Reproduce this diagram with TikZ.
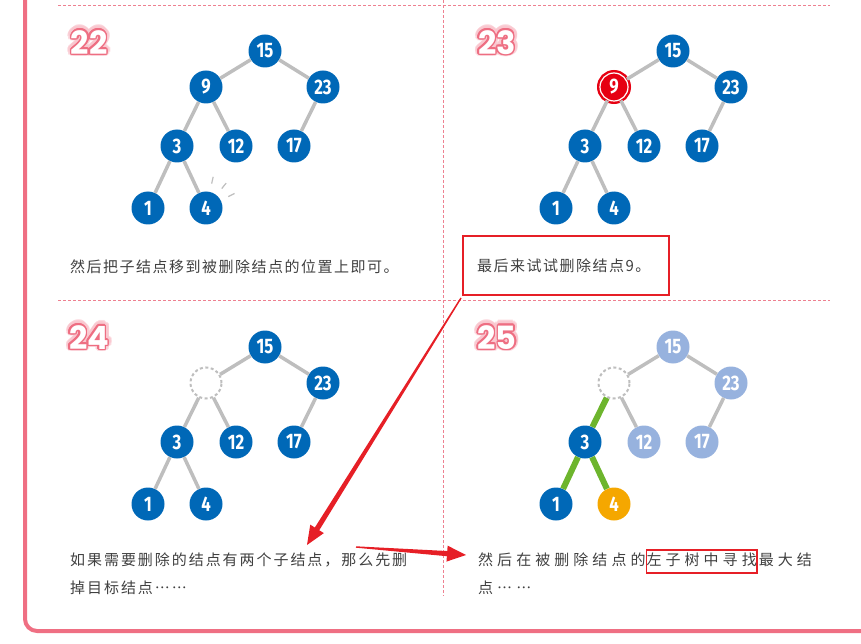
\documentclass[tikz,border=0pt]{standalone}
\usepackage{graphicx}
\usepackage{fontspec}
\usepackage{contour}
\usetikzlibrary{positioning,calc}
\newfontfamily\cjkA{Noto Sans CJK SC}[Script=CJK, Language=Chinese Simplified, LetterSpace=10]
\newfontfamily\cjkB{Noto Sans CJK SC}[Script=CJK, Language=Chinese Simplified, LetterSpace=13]
\newfontfamily\cjkC{Noto Sans CJK SC}[Script=CJK, Language=Chinese Simplified, LetterSpace=27]
\newfontfamily\numfont{Fira Sans}
\newfontfamily\labelfont{Poppins}
\definecolor{treeblue}{HTML}{0068B7}
\definecolor{fadeblue}{HTML}{97B2DE}
\definecolor{maxorange}{HTML}{F5A700}
\definecolor{pathgreen}{HTML}{6DB52D}
\definecolor{edgegray}{HTML}{BEBEBE}
\definecolor{delred}{HTML}{E60012}
\definecolor{framepink}{HTML}{EF6F83}
\definecolor{seppink}{HTML}{EE8090}
\definecolor{labelpink}{HTML}{EE6E82}
\definecolor{glowpink}{HTML}{F9C6CE}
\definecolor{textgray}{HTML}{404040}
\definecolor{boxred}{HTML}{E61F26}
\newcommand\val[1]{\scalebox{0.8}[1]{#1}}
\newcommand\steptext[1]{\contourlength{1.5pt}\contour{labelpink}{\textcolor{white}{#1}}}
\newcommand\stepglow[1]{\contourlength{4pt}\contour{glowpink}{\textcolor{glowpink}{#1}}}
% tapered red arrow between two named coordinates
\newcommand\taperarrow[2]{%
  \coordinate (#1-base) at ($(#2)!19pt!(#1)$);
  \fill[boxred] ($(#1)!0.7pt!90:(#2)$) -- ($(#1-base)!2.6pt!90:(#2)$)
    -- ($(#1-base)!8pt!90:(#2)$) -- (#2) -- ($(#1-base)!8pt!-90:(#2)$)
    -- ($(#1-base)!2.6pt!-90:(#2)$) -- ($(#1)!0.7pt!-90:(#2)$) -- cycle;}
\tikzset{
  tnode/.style={circle, fill=treeblue, minimum size=33pt, inner sep=0pt, text=white,
    font=\numfont\bfseries\fontsize{21}{21}\selectfont},
  fadenode/.style={tnode, fill=fadeblue},
  maxnode/.style={tnode, fill=maxorange},
  delnode/.style={tnode, fill=delred, draw=delred, line width=2.4pt, double=white,
    double distance=1.2pt, minimum size=28pt},
  holenode/.style={circle, draw=edgegray, line width=2pt, dash pattern=on 3pt off 2.5pt,
    minimum size=31pt, inner sep=0pt},
  edge/.style={draw=edgegray, line width=3.5pt},
  greenedge/.style={draw=pathgreen, line width=6pt},
  spark/.style={draw=edgegray, line width=1.2pt},
  sepline/.style={draw=seppink, line width=0.8pt, dash pattern=on 3pt off 2pt},
  steplabel/.style={inner sep=0pt, font=\labelfont\bfseries\fontsize{32}{32}\selectfont},
  glowlabel/.style={steplabel, opacity=0.6},
  caption/.style={inner sep=0pt, text=textgray, anchor=west},
  findbox/.style={draw=boxred, line width=1.5pt, inner xsep=0pt, inner ysep=4pt,
    text height=12pt, text depth=3pt}
}
\begin{document}
\begin{tikzpicture}[x=1pt, y=-1pt]
  \useasboundingbox (0,0) rectangle (861,644);
  % frame and separators
  \draw[framepink, line width=4pt, rounded corners=12pt] (25,-10) -- (25,631) -- (880,631);
  \draw[sepline] (58,5) -- (830,5);
  \draw[sepline] (58,300) -- (830,300);
  \draw[sepline] (443,0) -- (443,596);
  % step numbers
  \node[glowlabel] (g22) at (89,43) {\stepglow{22}};
  \node[steplabel] (l22) at (89,43) {\steptext{22}};
  \node[glowlabel] (g23) at (497,43) {\stepglow{23}};
  \node[steplabel] (l23) at (497,43) {\steptext{23}};
  \node[glowlabel] (g24) at (89,338) {\stepglow{24}};
  \node[steplabel] (l24) at (89,338) {\steptext{24}};
  \node[glowlabel] (g25) at (497,338) {\stepglow{25}};
  \node[steplabel] (l25) at (497,338) {\steptext{25}};

  % step 22
  \begin{scope}
    \node[tnode] (a15) at (265,51) {\val{15}};
    \node[tnode] (a9) at (206,87) {\val{9}};
    \node[tnode] (a23) at (323,87) {\val{23}};
    \node[tnode] (a3) at (177,146) {\val{3}};
    \node[tnode] (a12) at (236,146) {\val{12}};
    \node[tnode] (a17) at (294,146) {\val{17}};
    \node[tnode] (a1) at (148,208) {\val{1}};
    \node[tnode] (a4) at (206,208) {\val{4}};
    \draw[edge] (a15) -- (a9);
    \draw[edge] (a15) -- (a23);
    \draw[edge] (a9) -- (a3);
    \draw[edge] (a9) -- (a12);
    \draw[edge] (a23) -- (a17);
    \draw[edge] (a3) -- (a1);
    \draw[edge] (a3) -- (a4);
    \foreach \ang in {-77,-51,-27}
      \draw[spark] ([shift={(\ang:25)}]a4.center) -- ([shift={(\ang:32)}]a4.center);
  \end{scope}
  \node[caption, font=\cjkA\fontsize{15}{15}\selectfont] (t22) at (70,267)
    {然后把子结点移到被删除结点的位置上即可。};

  % step 23
  \begin{scope}[shift={(408,0)}]
    \node[tnode] (b15) at (265,51) {\val{15}};
    \node[delnode] (b9) at (206,87) {\val{9}};
    \node[tnode] (b23) at (323,87) {\val{23}};
    \node[tnode] (b3) at (177,146) {\val{3}};
    \node[tnode] (b12) at (236,146) {\val{12}};
    \node[tnode] (b17) at (294,146) {\val{17}};
    \node[tnode] (b1) at (148,208) {\val{1}};
    \node[tnode] (b4) at (206,208) {\val{4}};
    \draw[edge] (b15) -- (b9);
    \draw[edge] (b15) -- (b23);
    \draw[edge] (b9) -- (b3);
    \draw[edge] (b9) -- (b12);
    \draw[edge] (b23) -- (b17);
    \draw[edge] (b3) -- (b1);
    \draw[edge] (b3) -- (b4);
  \end{scope}
  \node[draw=boxred, line width=1.5pt, minimum width=206pt, minimum height=59pt,
    text width=178pt, align=left, inner xsep=14pt, text=textgray,
    font=\cjkA\fontsize{15}{15}\selectfont] (lastbox) at (566,265.5)
    {最后来试试删除结点9。};

  % step 24
  \begin{scope}[shift={(0,296)}]
    \node[tnode] (c15) at (265,51) {\val{15}};
    \node[holenode] (c9) at (206,87) {};
    \node[tnode] (c23) at (323,87) {\val{23}};
    \node[tnode] (c3) at (177,146) {\val{3}};
    \node[tnode] (c12) at (236,146) {\val{12}};
    \node[tnode] (c17) at (294,146) {\val{17}};
    \node[tnode] (c1) at (148,208) {\val{1}};
    \node[tnode] (c4) at (206,208) {\val{4}};
    \draw[edge] (c15) -- (c9);
    \draw[edge] (c15) -- (c23);
    \draw[edge] (c9) -- (c3);
    \draw[edge] (c9) -- (c12);
    \draw[edge] (c23) -- (c17);
    \draw[edge] (c3) -- (c1);
    \draw[edge] (c3) -- (c4);
  \end{scope}
  \node[caption, align=left, font=\cjkB\fontsize{15}{28}\selectfont] (t24) at (70,574)
    {如果需要删除的结点有两个子结点，那么先删\\掉目标结点……};

  % step 25
  \begin{scope}[shift={(408,296)}]
    \node[fadenode] (d15) at (265,51) {\val{15}};
    \node[holenode] (d9) at (206,87) {};
    \node[fadenode] (d23) at (323,87) {\val{23}};
    \node[tnode] (d3) at (177,146) {\val{3}};
    \node[fadenode] (d12) at (236,146) {\val{12}};
    \node[fadenode] (d17) at (294,146) {\val{17}};
    \node[tnode] (d1) at (148,208) {\val{1}};
    \node[maxnode] (d4) at (206,208) {\val{4}};
    \draw[edge] (d15) -- (d9);
    \draw[edge] (d15) -- (d23);
    \draw[greenedge] (d9) -- (d3);
    \draw[edge] (d9) -- (d12);
    \draw[edge] (d23) -- (d17);
    \draw[greenedge] (d3) -- (d1);
    \draw[greenedge] (d3) -- (d4);
  \end{scope}
  \node[caption, font=\cjkC\fontsize{15}{15}\selectfont] (t25a) at (478,560)
    {然后在被删除结点的};
  \node[findbox, font=\cjkC\fontsize{15}{15}\selectfont, text=textgray,
    base right=0pt of t25a] (t25b) {左子树中寻找};
  \node[inner sep=0pt, text=textgray, font=\cjkC\fontsize{15}{15}\selectfont,
    base right=1pt of t25b] (t25c) {最大结};
  \node[caption, font=\cjkC\fontsize{15}{15}\selectfont] (t25d) at (478,588)
    {点……};

  % arrows
  \coordinate (tailA) at (461,298);
  \coordinate (tipA) at (307,545);
  \coordinate (tailB) at (356,547);
  \coordinate (tipB) at (466,555);
  \taperarrow{tailA}{tipA}
  \taperarrow{tailB}{tipB}
\end{tikzpicture}
\end{document}
